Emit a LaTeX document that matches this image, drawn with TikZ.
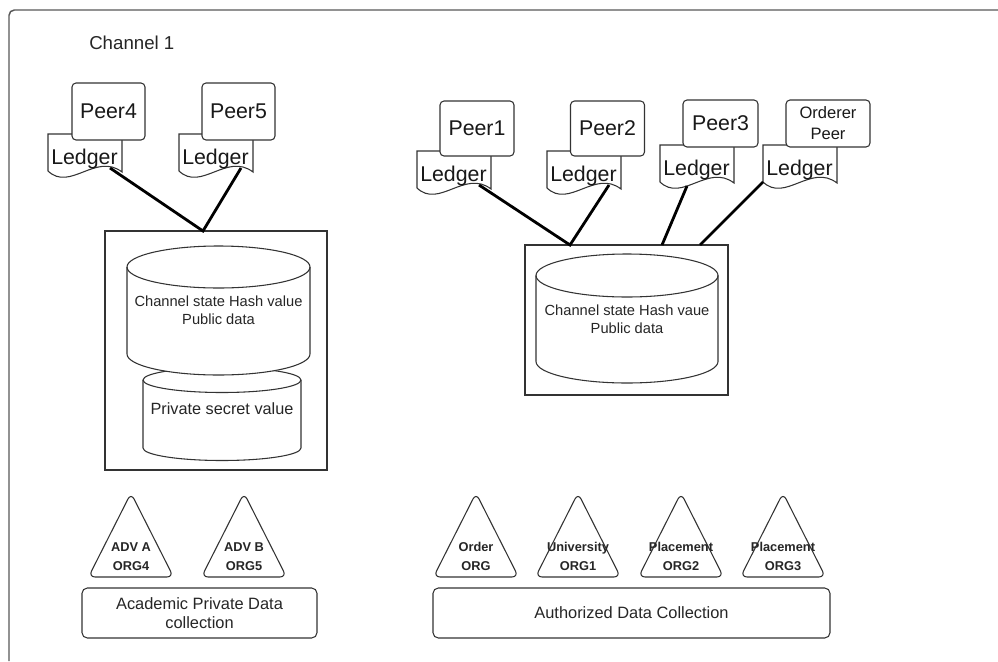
\documentclass[tikz,border=0pt]{standalone}
\usepackage{fontspec}
\setmainfont{Liberation Sans}
\newcommand\orgtri[3]{%
  \draw[shp, rounded corners=5pt] (#2,493) -- (#2+42.5,577) -- (#2-42.5,577) -- cycle;
  \node[orgtext] (#1) at (#2,556.5) {#3};}
\begin{document}
\begin{tikzpicture}[x=0.75pt,y=-0.75pt,
  shp/.style={draw=black!80, line width=0.8pt},
  peerbox/.style={shp, fill=white, rounded corners=3pt, inner sep=0pt, text=black!90, font=\fontsize{16}{18}\selectfont},
  link/.style={draw=black, line width=2.1pt},
  orgtext/.style={font=\bfseries\fontsize{9.6}{14.25}\selectfont, align=center, text=black!85, inner sep=0pt},
  colbox/.style={shp, rounded corners=4pt, inner sep=0pt, text=black!85, font=\fontsize{12.3}{14.25}\selectfont, align=center},
  cyltext/.style={text=black!85, align=center, inner sep=0pt},
  ledgerpic/.pic={
    \draw[shp, fill=white] (0,0) -- (74,0) -- (74,38) .. controls (48,18) and (22,58) .. (0,37) -- cycle;
    \node[anchor=base west, inner sep=0pt, text=black!90, font=\fontsize{16}{18}\selectfont] (-t) at (3,30) {Ledger};
    \coordinate (-a) at (62,34);
    \coordinate (-b) at (27,41);
    \coordinate (-c) at (0,37);
  }]
\useasboundingbox (0,0) rectangle (998,661);
\fill[white] (0,0) rectangle (998,661);
% outer frame
\draw[draw=black!65, line width=1.1pt, rounded corners=4pt] (9,661) -- (9,10) -- (998,10);
\node[anchor=west, inner sep=0pt, text=black!85, font=\fontsize{14}{16}\selectfont] (ch) at (89,43) {Channel 1};

% ledgers
\pic (l4) at (48,134) {ledgerpic};
\pic (l5) at (179,134) {ledgerpic};
\pic (l1) at (417,151) {ledgerpic};
\pic (l2) at (547,151) {ledgerpic};
\pic (l3) at (660,145) {ledgerpic};
\pic (lo) at (763,145) {ledgerpic};

% peers
\node[peerbox, minimum width=54.75pt, minimum height=42.75pt] (p4) at (108.5,111.5) {Peer4};
\node[peerbox, minimum width=54.75pt, minimum height=42.75pt] (p5) at (238.5,111.5) {Peer5};
\node[peerbox, minimum width=55.5pt, minimum height=41.25pt] (p1) at (477,128.5) {Peer1};
\node[peerbox, minimum width=55.5pt, minimum height=41.25pt] (p2) at (607.5,128.5) {Peer2};
\node[peerbox, minimum width=56.25pt, minimum height=35.25pt] (p3) at (720.5,123.5) {Peer3};
\node[peerbox, minimum width=63pt, minimum height=35.25pt, align=center, font=\fontsize{12.4}{15.75}\selectfont] (po) at (828,123.5) {Orderer\\Peer};

% left box and cylinders
\node[shp, minimum width=166.5pt, minimum height=179.25pt] (lbox) at (216,350.5) {};
\draw[shp, fill=white] (143,380) -- (143,448) arc[start angle=180, end angle=360, x radius=59.25pt, y radius=9.375pt] -- (301,380) arc[start angle=0, end angle=180, x radius=59.25pt, y radius=9.375pt] -- cycle;
\draw[shp] (143,380) arc[start angle=180, end angle=360, x radius=59.25pt, y radius=9.375pt];
\node[cyltext, font=\fontsize{12.2}{14}\selectfont] (pst) at (222,409) {Private secret value};

\draw[shp, fill=white] (127,267) -- (127,354) arc[start angle=180, end angle=360, x radius=68.625pt, y radius=15.75pt] -- (310,267) arc[start angle=0, end angle=180, x radius=68.625pt, y radius=15.75pt] -- cycle;
\draw[shp] (127,267) arc[start angle=180, end angle=360, x radius=68.625pt, y radius=15.75pt];
\node[cyltext, font=\fontsize{11}{13.5}\selectfont] (lcs) at (218.5,310) {Channel state Hash value\\Public data};

% right box and cylinder
\node[shp, minimum width=152.25pt, minimum height=112.5pt] (rbox) at (626.5,320) {};
\draw[shp, fill=white] (536,275.5) -- (536,361.5) arc[start angle=180, end angle=360, x radius=68.25pt, y radius=16.125pt] -- (718,275.5) arc[start angle=0, end angle=180, x radius=68.25pt, y radius=16.125pt] -- cycle;
\draw[shp] (536,275.5) arc[start angle=180, end angle=360, x radius=68.25pt, y radius=16.125pt];
\node[cyltext, font=\fontsize{11}{13.5}\selectfont] (rcs) at (627,319) {Channel state Hash vaue\\Public data};

% connectors
\coordinate (lv) at (203,231);
\coordinate (rv) at (570,245);
\coordinate (rv3) at (662,245);
\coordinate (rv4) at (700,245);
\draw[link] (l4-a) -- (lv) -- (l5-a);
\draw[link] (l1-a) -- (rv) -- (l2-a);
\draw[link] (l3-b) -- (rv3);
\draw[link] (lo-c) -- (rv4);

% organisations
\orgtri{oa}{131}{ADV A\\ORG4}
\orgtri{ob}{244}{ADV B\\ORG5}
\orgtri{oo}{476}{Order\\ORG}
\orgtri{ou}{578}{University\\ORG1}
\orgtri{op2}{681}{Placement\\ORG2}
\orgtri{op3}{783}{Placement\\ORG3}

\node[colbox, minimum width=176.25pt, minimum height=37.5pt] (apd) at (199.5,613) {Academic Private Data\\collection};
\node[colbox, minimum width=297.75pt, minimum height=37.5pt] (adc) at (631.5,613) {Authorized Data Collection};
\end{tikzpicture}
\end{document}
